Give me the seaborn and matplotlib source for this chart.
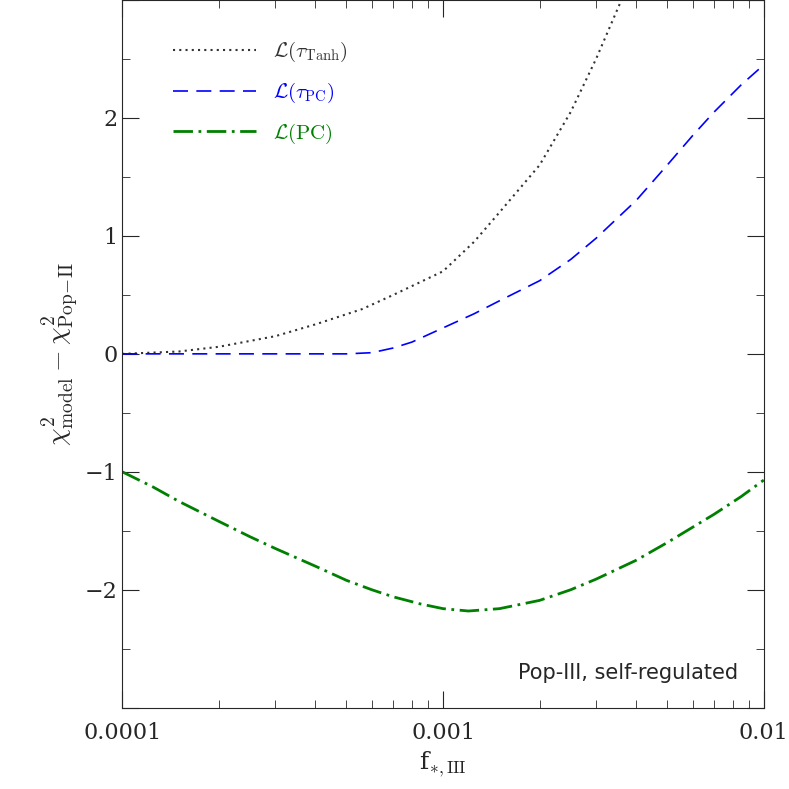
import numpy as np
import matplotlib
matplotlib.use("Agg")
import matplotlib.pyplot as plt
import seaborn as sns
from matplotlib.ticker import MultipleLocator, FixedLocator, FixedFormatter

sns.set_style("ticks")
plt.rcParams['font.family'] = ['DejaVu Serif']
plt.rcParams['mathtext.fontset'] = 'cm'

f_tanh = [1e-4, 1.5e-4, 2e-4, 3e-4, 4e-4, 5.6e-4, 7e-4, 1e-3, 1.25e-3, 1.5e-3,
          2e-3, 2.5e-3, 3e-3, 3.6e-3]
d_tanh = [0.0, 0.02, 0.06, 0.15, 0.25, 0.38, 0.5, 0.7, 0.95, 1.2,
          1.6, 2.05, 2.5, 3.0]

f_pc = [1e-4, 2e-4, 3e-4, 4e-4, 5e-4, 6e-4, 7e-4, 8e-4, 1e-3, 1.25e-3, 1.5e-3, 2e-3,
        2.5e-3, 3e-3, 4e-3, 5e-3, 6e-3, 7e-3, 8.5e-3, 1e-2]
d_pc = [0, 0, 0, 0, 0, 0.01, 0.05, 0.1, 0.22, 0.34, 0.45, 0.62,
        0.8, 0.98, 1.3, 1.6, 1.85, 2.05, 2.28, 2.45]

f_full = [1e-4, 1.25e-4, 1.5e-4, 2e-4, 2.5e-4, 3e-4, 4e-4, 5e-4, 6e-4, 7e-4, 8.5e-4,
          1e-3, 1.2e-3, 1.5e-3, 2e-3, 2.5e-3, 3e-3, 4e-3, 5e-3, 6e-3, 7e-3, 8.5e-3, 1e-2]
d_full = [-1.0, -1.13, -1.25, -1.42, -1.55, -1.65, -1.8, -1.92, -2.0, -2.06, -2.12,
          -2.16, -2.18, -2.16, -2.09, -2.0, -1.91, -1.75, -1.6, -1.47, -1.36, -1.21, -1.07]

fig, ax = plt.subplots(figsize=(7.89, 7.89), dpi=100)
fig.subplots_adjust(left=0.155, right=0.968, top=1.0, bottom=0.103)

sns.lineplot(x=f_tanh, y=d_tanh, ax=ax, color='#333333', linestyle=(0, (1, 2)), lw=1.5,
             label=r'$\mathcal{L}(\tau_{\rm Tanh})$')
sns.lineplot(x=f_pc, y=d_pc, ax=ax, color='blue', linestyle=(0, (9, 5)), lw=1.2,
             label=r'$\mathcal{L}(\tau_{\rm PC})$')
sns.lineplot(x=f_full, y=d_full, ax=ax, color='green', linestyle=(0, (7, 2, 1, 2)), lw=2,
             label=r'$\mathcal{L}(\rm PC)$')

ax.set_xscale('log')
ax.set_xlim(1e-4, 1e-2)
ax.set_ylim(-3, 3)
ax.xaxis.set_major_locator(FixedLocator([1e-4, 1e-3, 1e-2]))
ax.xaxis.set_major_formatter(FixedFormatter(['0.0001', '0.001', '0.01']))
ax.yaxis.set_major_locator(MultipleLocator(1))
ax.yaxis.set_minor_locator(MultipleLocator(0.5))
ax.yaxis.set_major_formatter(matplotlib.ticker.FuncFormatter(
    lambda v, p: '' if abs(v) > 2.5 else (('\u2212%d' % -v) if v < 0 else '%d' % v)))
ax.tick_params(which='both', direction='in', top=True, right=True, labelsize=16)
ax.tick_params(which='major', length=12)
ax.tick_params(which='minor', length=6)
ax.tick_params(axis='x', pad=10)

ax.set_xlabel(r'f$_{*,\rm III}$', fontsize=18)
ax.set_ylabel(r'$\chi^2_{\rm model} - \chi^2_{\rm Pop\!-\!II}$', fontsize=20)

leg = ax.legend(loc='upper left', frameon=False, fontsize=15, handlelength=4,
                bbox_to_anchor=(0.05, 0.97), labelspacing=0.8)
for t, c in zip(leg.get_texts(), ['#333333', 'blue', 'green']):
    t.set_color(c)

ax.text(0.96, 0.035, 'Pop-III, self-regulated', transform=ax.transAxes,
        ha='right', va='bottom', fontsize=15, family='DejaVu Sans')

fig.savefig('out.png', dpi=100)
